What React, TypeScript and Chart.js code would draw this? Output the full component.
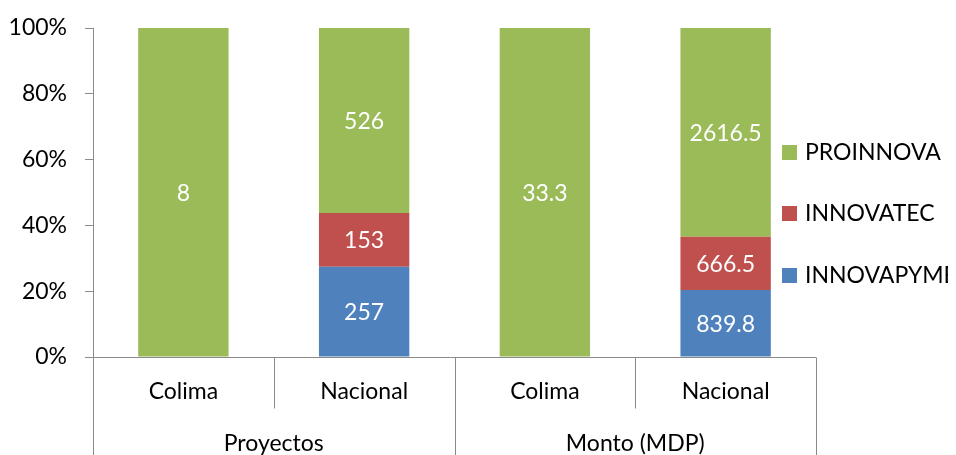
import React, { useEffect, useRef } from "react";
import { Chart, registerables } from "chart.js";

Chart.register(...registerables);

const groups = ["Proyectos", "Monto (MDP)"];
const categories = ["Colima", "Nacional", "Colima", "Nacional"];
const innovapyme = [0, 257, 0, 839.8];
const innovatec = [0, 153, 0, 666.5];
const proinnova = [8, 526, 33.3, 2616.5];
const yTicks = [0, 20, 40, 60, 80, 100];

const seriesNames = ["INNOVAPYME", "INNOVATEC", "PROINNOVA"];
const seriesColors = ["#4F81BD", "#C0504D", "#9BBB59"];
const seriesValues = [innovapyme, innovatec, proinnova];

const FONT = "Lato, 'Open Sans', sans-serif";
const AXIS = "#8a8a8a";

export default function App() {
  const ref = useRef<HTMLCanvasElement>(null);
  useEffect(() => {
    document.documentElement.style.overflow = "hidden";
    const totals = categories.map((_, i) =>
      seriesValues.reduce((s, arr) => s + arr[i], 0)
    );
    const datasets = seriesValues.map((arr, k) => ({
      label: seriesNames[k],
      data: arr.map((v, i) => (v / totals[i]) * 100),
      raw: arr,
      backgroundColor: seriesColors[k],
      borderWidth: 0,
      barPercentage: 0.5,
      categoryPercentage: 1,
    }));

    const custom = {
      id: "custom",
      afterDraw(chart: any) {
        const ctx = chart.ctx;
        const area = chart.chartArea;
        const xs = chart.scales.x;
        const H = chart.height;
        ctx.save();
        // data labels
        ctx.fillStyle = "#ffffff";
        ctx.font = `23px ${FONT}`;
        ctx.textAlign = "center";
        ctx.textBaseline = "middle";
        chart.data.datasets.forEach((ds: any, di: number) => {
          const meta = chart.getDatasetMeta(di);
          meta.data.forEach((el: any, i: number) => {
            const v = ds.raw[i];
            if (!v) return;
            ctx.fillText(String(v), el.x, (el.y + el.base) / 2 + 1);
          });
        });
        // x axis
        ctx.strokeStyle = AXIS;
        ctx.lineWidth = 1;
        const yb = Math.round(area.bottom) + 0.5;
        ctx.beginPath();
        ctx.moveTo(area.left - 8, yb);
        ctx.lineTo(area.right, yb);
        const n = categories.length;
        const step = (area.right - area.left) / n;
        for (let i = 0; i <= n; i++) {
          const x = Math.round(area.left + step * i) + 0.5;
          ctx.moveTo(x, yb);
          ctx.lineTo(x, i % 2 === 0 ? H : yb + 51);
        }
        ctx.stroke();
        ctx.fillStyle = "#000000";
        ctx.font = `23px ${FONT}`;
        categories.forEach((c, i) => {
          ctx.fillText(c, xs.getPixelForValue(i), area.bottom + 35);
        });
        groups.forEach((g, gi) => {
          const x = area.left + step * (gi * 2 + 1);
          ctx.fillText(g, x, area.bottom + 87);
        });
        // legend
        ctx.textAlign = "left";
        const legendY = [144, 205, 267];
        const order = [2, 1, 0];
        order.forEach((k, j) => {
          ctx.fillStyle = seriesColors[k];
          ctx.fillRect(774, legendY[j] - 7, 15, 15);
          ctx.fillStyle = "#000000";
          ctx.font = `23px ${FONT}`;
          ctx.fillText(seriesNames[k], 797, legendY[j] + 1);
        });
        ctx.restore();
      },
    };

    const chart = new Chart(ref.current!, {
      type: "bar",
      data: { labels: categories, datasets: datasets as any },
      options: {
        animation: false,
        responsive: false,
        layout: { padding: { top: 20, right: 140, bottom: 98, left: 0 } },
        plugins: { legend: { display: false }, tooltip: { enabled: false } },
        scales: {
          x: { stacked: true, display: false },
          y: {
            stacked: true,
            min: 0,
            max: 100,
            afterFit: (s: any) => {
              s.width = 85;
              s.paddingTop = 0;
              s.paddingBottom = 0;
            },
            afterBuildTicks: (s: any) => {
              s.ticks = yTicks.map((v) => ({ value: v }));
            },
            ticks: {
              callback: (v: any) => v + "%",
              color: "#000000",
              font: { family: FONT, size: 23 },
              padding: 18,
            },
            grid: {
              drawOnChartArea: false,
              drawTicks: true,
              tickLength: 8,
              color: AXIS,
            },
            border: { display: true, color: AXIS },
          },
        },
      },
      plugins: [custom],
    });
    return () => chart.destroy();
  }, []);
  return (
    <div style={{ width: 948, height: 447 }}>
      <canvas ref={ref} width={948} height={447} style={{ display: "block" }} />
    </div>
  );
}
